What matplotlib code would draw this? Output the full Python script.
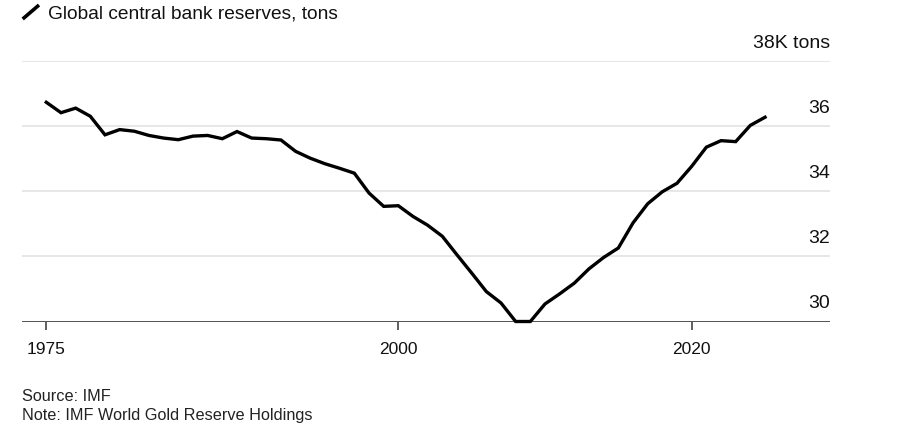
import matplotlib
matplotlib.use("Agg")
import matplotlib.pyplot as plt
import matplotlib.dates as mdates
from matplotlib.lines import Line2D
import pandas as pd

plt.rcParams['font.family'] = ['Liberation Sans', 'DejaVu Sans']

# Data: global central bank gold reserves, thousand tons (year-end values)
years = list(range(1975, 2025))
reserves = [36.74, 36.42, 36.56, 36.31, 35.74, 35.90, 35.85, 35.72, 35.64, 35.59,
            35.70, 35.72, 35.62, 35.84, 35.64, 35.62, 35.58, 35.23, 35.02, 34.85,
            34.71, 34.56, 33.95, 33.54, 33.56, 33.23, 32.96, 32.62, 32.05, 31.49,
            30.92, 30.57, 30.00, 30.00, 30.54, 30.85, 31.18, 31.62, 31.97, 32.26,
            33.03, 33.62, 33.99, 34.25, 34.77, 35.36, 35.56, 35.53, 36.03, 36.28]
y_ticks = [30, 32, 34, 36, 38]
y_labels = ["30", "32", "34", "36", "38K tons"]
x_tick_years = [1975, 2000, 2020]

dates = pd.to_datetime([f"{y}-12-31" for y in years])

W, H = 900, 439
fig = plt.figure(figsize=(W / 100, H / 100), dpi=100)
ax_left, ax_right = 22 / W, 830 / W
ax_bottom, ax_top = (H - 322.5) / H, (H - 62.3) / H
ax = fig.add_axes([ax_left, ax_bottom, ax_right - ax_left, ax_top - ax_bottom])

ax.plot(dates, reserves, color="black", lw=2.4, solid_joinstyle="miter", zorder=3, clip_on=False)

# x limits
d0 = mdates.date2num(dates[0])
d2020 = mdates.date2num(pd.Timestamp("2020-01-01"))
px_per_day = (691.7 - 46.3) / (d2020 - d0)
xmin = d0 - (46.3 - 22) / px_per_day
xmax = d2020 + (830 - 691.7) / px_per_day
ax.set_xlim(xmin, xmax)
ax.set_ylim(30, 38)

# gridlines
for v in y_ticks[1:]:
    ax.axhline(v, color="#e3e3e3", lw=1.2, zorder=1)
ax.axhline(30, color="#333333", lw=1.2, zorder=2)

for s in ax.spines.values():
    s.set_visible(False)

# x ticks
tick_pos = [dates[0], pd.Timestamp("2000-01-01"), pd.Timestamp("2020-01-01")]
ax.set_xticks(tick_pos)
ax.set_xticklabels([str(y) for y in x_tick_years], fontsize=12.5, color="#111111")
ax.tick_params(axis="x", length=6, width=1.1, color="#333333", pad=8)

# y labels (right, above gridlines)
ax.set_yticks([])
for v, lab in zip(y_ticks, y_labels):
    ax.text(1.0, v + 0.58, lab, transform=ax.get_yaxis_transform(), ha="right", va="center",
            fontsize=14, color="#111111")

# title with line glyph
fig.add_artist(Line2D([22.7 / W, 39 / W], [1 - 20 / H, 1 - 6 / H], color="black", lw=2.6,
                      transform=fig.transFigure, solid_capstyle="butt"))
fig.text(48 / W, 1 - 14 / H, "Global central bank reserves, tons", ha="left", va="center",
         fontsize=13.8, color="#111111")

fig.text(22 / W, 1 - 396.5 / H, "Source: IMF", ha="left", va="center", fontsize=11.7, color="#222222")
fig.text(22 / W, 1 - 415.5 / H, "Note: IMF World Gold Reserve Holdings", ha="left", va="center",
         fontsize=11.7, color="#222222")

fig.savefig("out.png", dpi=100, facecolor="white")
